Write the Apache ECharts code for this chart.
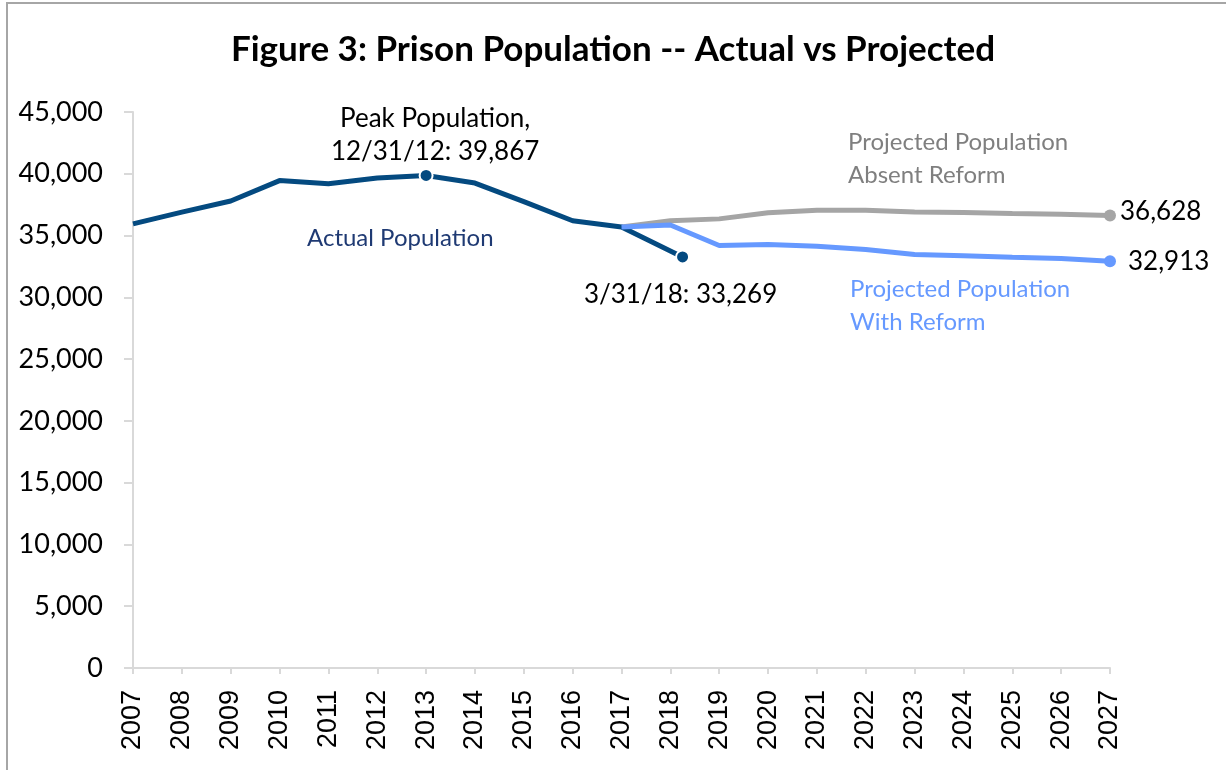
<!DOCTYPE html>
<html>
<head>
<meta charset="utf-8">
<script src="https://cdn.jsdelivr.net/npm/echarts@6/dist/echarts.min.js"></script>
<style>
html,body{margin:0;padding:0;background:#fff;}
#chart{width:1226px;height:770px;}
</style>
</head>
<body>
<div id="chart"></div>
<script>
// ---- data ----
const actualYears = [2007, 2008, 2009, 2010, 2011, 2012, 2013, 2014, 2015, 2016, 2017, 2018.25];
const actualValues = [35950, 36900, 37800, 39450, 39200, 39650, 39867, 39250, 37750, 36200, 35700, 33269];
const projYears = [2017, 2018, 2019, 2020, 2021, 2022, 2023, 2024, 2025, 2026, 2027];
const absentReform = [35700, 36200, 36350, 36850, 37050, 37050, 36900, 36870, 36780, 36720, 36628];
const withReform = [35700, 35850, 34200, 34280, 34130, 33870, 33470, 33360, 33250, 33150, 32913];
const yearTicks = [2007, 2027];
const yTicks = [0, 45000, 5000];

const TEXT_FONT = 'Lato';

function buildActual() {
  return actualYears.map((y, i) => {
    const item = { value: [y, actualValues[i]] };
    if (i === 6) {
      item.symbol = 'circle';
      item.symbolSize = 13;
      item.label = {
        show: true, position: 'top', distance: 4, offset: [9, 4],
        formatter: 'Peak Population,\n12/31/12: 39,867',
        color: '#000', fontFamily: TEXT_FONT, fontSize: 26, lineHeight: 33, align: 'center'
      };
    }
    if (i === actualYears.length - 1) {
      item.symbol = 'circle';
      item.symbolSize = 13;
      item.label = {
        show: true, position: 'bottom', distance: 17, offset: [-2, 0],
        formatter: '3/31/18: 33,269',
        color: '#000', fontFamily: TEXT_FONT, fontSize: 26
      };
    }
    return item;
  });
}
function buildProj(vals, labelText, dist, offY) {
  return projYears.map((y, i) => {
    const item = { value: [y, vals[i]] };
    if (i === projYears.length - 1) {
      item.symbol = 'circle';
      item.symbolSize = 12;
      item.label = {
        show: true, position: 'right', distance: dist, offset: [0, offY],
        formatter: labelText, color: '#000', fontFamily: TEXT_FONT, fontSize: 26
      };
    }
    return item;
  });
}

const chart = echarts.init(document.getElementById('chart'), null, { renderer: 'canvas' });
chart.setOption({
  animation: false,
  backgroundColor: '#fff',
  title: {
    text: 'Figure 3: Prison Population -- Actual vs Projected',
    left: 'center', top: 27,
    textStyle: { fontFamily: TEXT_FONT, fontWeight: 'bold', fontSize: 35, color: '#000' }
  },
  grid: { left: 133, right: 116, top: 112, bottom: 102, containLabel: false },
  xAxis: {
    type: 'value', min: yearTicks[0], max: yearTicks[1], interval: 1,
    axisLine: { show: true, lineStyle: { color: '#d9d9d9', width: 2 } },
    axisTick: { show: true, length: 6, lineStyle: { color: '#d9d9d9', width: 2 } },
    splitLine: { show: false },
    axisLabel: {
      rotate: 90, margin: 22, formatter: v => String(v),
      fontFamily: 'Liberation Sans', fontSize: 27, color: '#000'
    }
  },
  yAxis: {
    type: 'value', min: yTicks[0], max: yTicks[1], interval: yTicks[2],
    axisLine: { show: true, lineStyle: { color: '#d9d9d9', width: 2 } },
    axisTick: { show: true, length: 9, lineStyle: { color: '#d9d9d9', width: 2 } },
    splitLine: { show: false },
    axisLabel: { margin: 30, fontFamily: TEXT_FONT, fontSize: 27, color: '#000' }
  },
  series: [
    {
      name: 'Projected Population Absent Reform', type: 'line',
      data: buildProj(absentReform, '36,628', 4, -4),
      symbol: 'none', showSymbol: true,
      lineStyle: { color: '#a5a5a5', width: 5 },
      itemStyle: { color: '#a5a5a5' }, z: 2
    },
    {
      name: 'Actual Population', type: 'line',
      data: buildActual(),
      symbol: 'none', showSymbol: true,
      lineStyle: { color: '#044a80', width: 5 },
      itemStyle: { color: '#044a80', borderColor: '#fff', borderWidth: 2 }, z: 3
    },
    {
      name: 'Projected Population With Reform', type: 'line',
      data: buildProj(withReform, '32,913', 12, 0),
      symbol: 'none', showSymbol: true,
      lineStyle: { color: '#6699ff', width: 5 },
      itemStyle: { color: '#6699ff' }, z: 4
    }
  ],
  graphic: [
    { type: 'rect', shape: { x: 7, y: 3, width: 1300, height: 900 }, style: { fill: 'none', stroke: '#a6a6a6', lineWidth: 2 }, silent: true, z: -1 },
    { type: 'text', left: 307, top: 226, style: { text: 'Actual Population', font: '24px Lato', fill: '#1f3a73' } },
    { type: 'text', left: 848, top: 126, style: { text: 'Projected Population\nAbsent Reform', font: '24px Lato', fill: '#7f7f7f', lineHeight: 33 } },
    { type: 'text', left: 850, top: 273, style: { text: 'Projected Population\nWith Reform', font: '24px Lato', fill: '#6699ff', lineHeight: 33 } }
  ]
});
</script>
</body>
</html>
